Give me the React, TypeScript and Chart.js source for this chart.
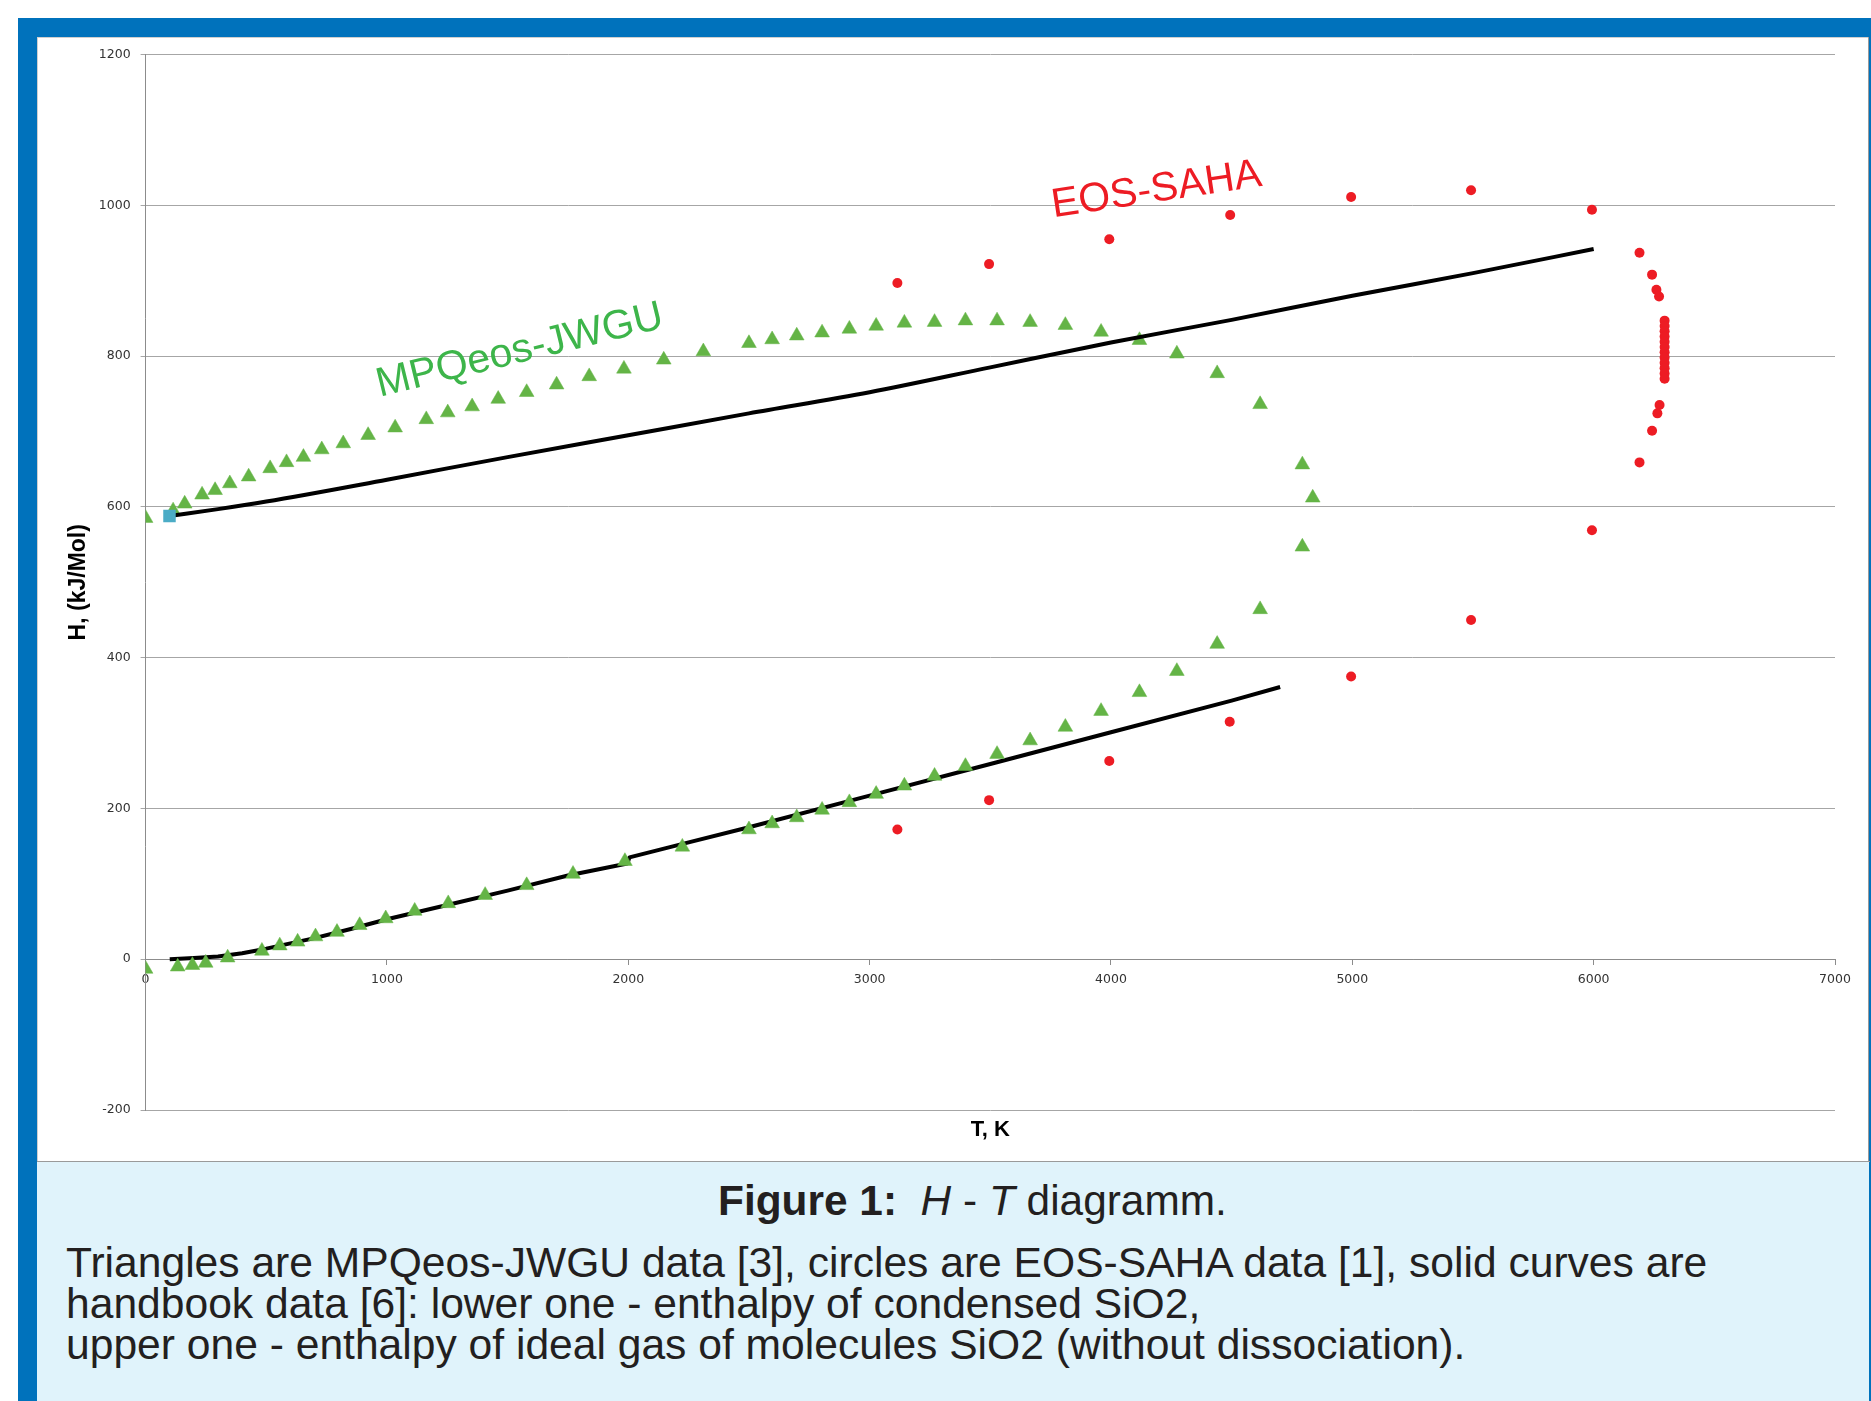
import React, { useEffect, useRef } from 'react';
import { Chart, registerables } from 'chart.js';

Chart.register(...registerables);

// ---- Axis definitions ----
const X_MIN = 0;
const X_MAX = 7000;
const X_STEP = 1000;
const Y_MIN = -200;
const Y_MAX = 1200;
const Y_STEP = 200;
const X_TITLE = 'T, K';
const Y_TITLE = 'H, (kJ/Mol)';

// ---- MPQeos-JWGU data (triangles) ----
const MPQ_T = [
  0, 114, 162, 234, 288, 349, 427, 516, 584, 654, 730, 819, 922, 1034, 1163, 1252, 1353, 1461, 1579,
  1703, 1838, 1982, 2147, 2311, 2500, 2596, 2698, 2803, 2916, 3027, 3144, 3269, 3397, 3528, 3665,
  3811, 3959, 4118, 4273, 4440, 4618, 4793, 4836, 4793, 4618, 4440, 4273, 4118, 3959, 3811, 3665,
  3528, 3397, 3269, 3144, 3027, 2916, 2803, 2698, 2596, 2500, 2224, 1986, 1771, 1579, 1407, 1254,
  1115, 995, 887, 793, 704, 630, 556, 482, 340, 249, 194, 133, 0,
];
const MPQ_H = [
  585, 595, 604, 616, 622, 631, 640, 651, 659, 666, 676, 684, 695, 705, 716, 725, 733, 743, 752,
  762, 773, 783, 795, 806, 817, 822, 827, 831, 836, 840, 844, 845, 847, 847, 845,
  841, 832, 821, 803, 777, 736, 656, 612, 547, 464, 418, 382, 354, 329, 308, 290,
  272, 256, 243, 230, 219, 208, 198, 188, 180, 172, 149, 130, 113, 98, 85, 74,
  64, 54, 45, 36, 30, 23, 18, 11, 2, -5, -8, -10, -13,
];

// ---- EOS-SAHA data (circles) ----
const SAHA_T = [
  3115, 3495, 3993, 4494, 4995, 5492, 5993, 6190, 6242, 6260, 6271,
  6294, 6294, 6294, 6294, 6294, 6294, 6294, 6294, 6294, 6294, 6294, 6294,
  6273, 6264, 6242, 6190, 5993, 5492, 4995, 4492, 3993, 3495, 3115,
];
const SAHA_H = [
  897, 922, 955, 987, 1011, 1020, 994, 937, 908, 888, 879,
  847, 840, 833, 826, 819, 812, 805, 798, 791, 784, 777, 770,
  735, 724, 701, 659, 569, 450, 375, 315, 263, 211, 172,
];

// ---- Handbook data: ideal gas of SiO2 molecules (upper curve) ----
const GAS_T = [99, 300, 500, 1000, 1500, 2000, 2500, 3000, 3500, 4000, 4500, 5000, 5500, 6000];
const GAS_H = [588, 597, 607, 636, 666, 695, 724, 752, 785, 818, 848, 880, 910, 942];

// ---- Handbook data: condensed SiO2 (lower curve) ----
const COND_T = [100, 200, 300, 400, 500, 600, 700, 850, 1000, 1250, 1500, 1750, 1996, 2005, 2250, 2500, 3000, 3500, 4000, 4500, 4701];
const COND_H = [0, 1.5, 3.5, 8, 14, 21, 28, 40, 53, 72, 91, 111, 127, 135, 155, 175, 217, 259, 301, 343, 361];

// ---- In-plot labels ----
const LABEL_TEXT = ['MPQeos-JWGU', 'EOS-SAHA'];
const LABEL_T = [970, 3762];
const LABEL_H = [746, 984];
const LABEL_ANGLE = [-13.7, -8.6];
const LABEL_COLOR = ['#3db54a', '#ed1c24'];

const toPoints = (xs: number[], ys: number[]) => xs.map((x, i) => ({ x, y: ys[i] }));

const TICK_FONT = { family: '"DejaVu Sans", Verdana, sans-serif', size: 12.5 };
const SANS = '"Liberation Sans", Arial, Helvetica, sans-serif';

const labelPlugin = {
  id: 'seriesLabels',
  afterDatasetsDraw(chart: any) {
    const { ctx, scales } = chart;
    const xs = scales.x;
    const ys = scales.y;
    LABEL_TEXT.forEach((text, i) => {
      ctx.save();
      ctx.translate(xs.getPixelForValue(LABEL_T[i]), ys.getPixelForValue(LABEL_H[i]));
      ctx.rotate((LABEL_ANGLE[i] * Math.PI) / 180);
      ctx.font = `41px ${SANS}`;
      ctx.fillStyle = LABEL_COLOR[i];
      ctx.textAlign = 'left';
      ctx.textBaseline = 'alphabetic';
      ctx.fillText(text, 0, 0);
      ctx.restore();
    });
  },
};

function H_T_Chart() {
  const ref = useRef<HTMLCanvasElement | null>(null);
  useEffect(() => {
    if (!ref.current) return;
    const chart = new Chart(ref.current, {
      type: 'scatter',
      data: {
        datasets: [
          {
            label: 'MPQeos-JWGU',
            data: toPoints(MPQ_T, MPQ_H),
            pointStyle: 'triangle',
            pointRadius: 8.5,
            pointBackgroundColor: '#64b446',
            pointBorderColor: '#64b446',
            pointBorderWidth: 0.5,
            showLine: false,
            order: 1,
          },
          {
            label: 'EOS-SAHA',
            data: toPoints(SAHA_T, SAHA_H),
            pointStyle: 'circle',
            pointRadius: 5,
            pointBackgroundColor: '#ed1c24',
            pointBorderColor: '#ed1c24',
            pointBorderWidth: 0,
            showLine: false,
            order: 2,
          },
          {
            label: 'ideal gas SiO2',
            data: toPoints(GAS_T, GAS_H),
            showLine: true,
            borderColor: '#000000',
            borderWidth: 4,
            cubicInterpolationMode: 'monotone',
            pointStyle: 'rect',
            pointRadius: (c: any) => (c.dataIndex === 0 ? 6 : 0),
            pointBackgroundColor: '#4bacc6',
            pointBorderColor: '#4bacc6',
            order: 0,
          },
          {
            label: 'condensed SiO2',
            data: toPoints(COND_T, COND_H),
            showLine: true,
            borderColor: '#000000',
            borderWidth: 4,
            tension: 0,
            borderJoinStyle: 'round',
            pointRadius: 0,
            order: 4,
          },
        ],
      } as any,
      options: {
        responsive: false,
        animation: false,
        devicePixelRatio: 1,
        layout: { padding: { left: 27.4, top: 15.5, right: 34, bottom: 0 } },
        plugins: {
          legend: { display: false },
          tooltip: { enabled: false },
          title: {
            display: true,
            fullSize: false,
            text: X_TITLE,
            position: 'bottom',
            color: '#000000',
            font: { family: SANS, size: 22, weight: 'bold' },
            padding: { top: 6.3, bottom: 18.3 },
          },
        },
        scales: {
          x: {
            type: 'linear',
            min: X_MIN,
            max: X_MAX,
            position: { y: 0 } as any,
            ticks: {
              stepSize: X_STEP,
              color: '#333333',
              font: TICK_FONT,
              padding: 8,
              maxRotation: 0,
              callback: (v: any) => String(v),
            },
            grid: { drawOnChartArea: false, drawTicks: true, tickLength: 5, color: '#8c8c8c' },
            border: { display: true, color: '#8c8c8c', width: 1 },
          },
          y: {
            type: 'linear',
            min: Y_MIN,
            max: Y_MAX,
            afterFit: (s: any) => {
              s.width = 81.2;
            },
            ticks: {
              stepSize: Y_STEP,
              color: '#333333',
              font: TICK_FONT,
              padding: 10,
              callback: (v: any) => String(v),
            },
            grid: { color: '#a6a6a6', lineWidth: 1, tickLength: 5 },
            border: { display: true, color: '#8c8c8c', width: 1 },
            title: {
              display: true,
              text: Y_TITLE,
              color: '#000000',
              font: { family: SANS, size: 23, weight: 'bold' },
              padding: 0,
            },
          },
        },
      } as any,
      plugins: [labelPlugin],
    });
    return () => chart.destroy();
  }, []);
  return <canvas ref={ref} width={1832} height={1124} style={{ display: 'block', width: 1832, height: 1124 }} />;
}

export default function App() {
  const BLUE = '#0072bc';
  const abs = (s: React.CSSProperties): React.CSSProperties => ({ position: 'absolute', ...s });
  return (
    <div style={abs({ left: 0, top: 0, width: 1871, height: 1401, background: '#ffffff', overflow: 'hidden' })}>
      <div style={abs({ left: 18, top: 18, width: 1853, height: 19, background: BLUE })} />
      <div style={abs({ left: 18, top: 18, width: 19, height: 1383, background: BLUE })} />
      <div style={abs({ left: 1869, top: 37, width: 2, height: 1364, background: BLUE })} />
      <div
        style={abs({
          left: 37,
          top: 37,
          width: 1832,
          height: 1124,
          background: '#ffffff',
          boxShadow: 'inset 1px 1px 0 #cfcfcf',
        })}
      >
        <H_T_Chart />
      </div>
      <div style={abs({ left: 37, top: 1161, width: 1833, height: 1, background: '#9a9a9a' })} />
      <div style={abs({ left: 1868, top: 37, width: 1, height: 1124, background: '#9a9a9a' })} />
      <div style={abs({ left: 37, top: 1162, width: 1832, height: 239, background: '#e0f3fb' })} />
      <div
        style={abs({
          left: 718,
          top: 1179.8,
          fontFamily: SANS,
          fontSize: 42.4,
          lineHeight: '42.4px',
          color: '#231f20',
          whiteSpace: 'pre',
        })}
      >
        <b>Figure 1:</b>
        {'  '}
        <i>H</i>
        {' - '}
        <i>T</i>
        {' diagramm.'}
      </div>
      <div
        style={abs({
          left: 66,
          top: 1241.6,
          fontFamily: SANS,
          fontSize: 42.6,
          lineHeight: '41.4px',
          color: '#231f20',
          whiteSpace: 'pre',
        })}
      >
        {'Triangles are MPQeos-JWGU data [3], circles are EOS-SAHA data [1], solid curves are'}
        <br />
        {'handbook data [6]: lower one - enthalpy of condensed SiO2,'}
        <br />
        {'upper one - enthalpy of ideal gas of molecules SiO2 (without dissociation).'}
      </div>
    </div>
  );
}
